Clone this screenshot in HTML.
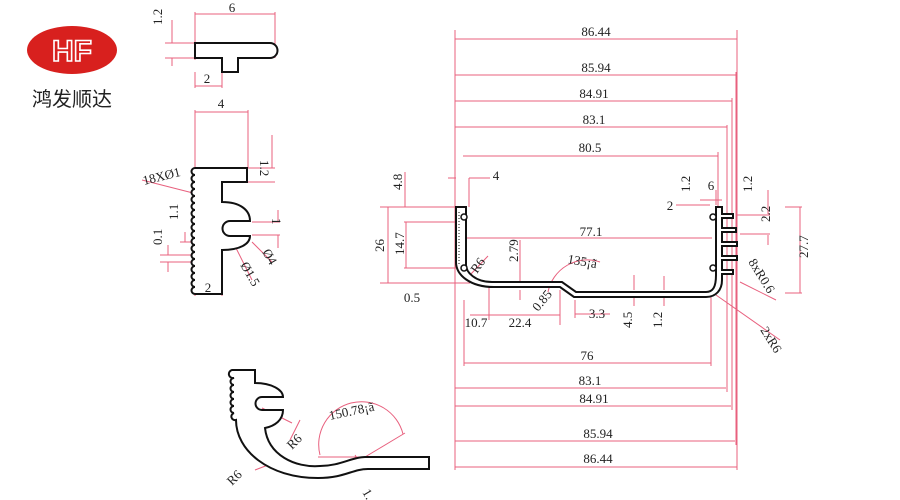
<!DOCTYPE html>
<html><head><meta charset="utf-8"><style>
html,body{margin:0;padding:0;background:#fff;}
svg{display:block}
text{font-family:"Liberation Serif",serif;font-size:13px;fill:#222}
.r{stroke:#e8607e;stroke-width:1;fill:none}
.k{stroke:#111;stroke-width:2;fill:#fff}
</style></head><body>
<svg width="900" height="500" viewBox="0 0 900 500" xmlns="http://www.w3.org/2000/svg">
<!-- logo -->
<ellipse cx="72" cy="50" rx="45" ry="24" fill="#d8201e"/>
<text x="72" y="61" text-anchor="middle" style="font-family:'Liberation Sans',sans-serif;font-size:30px;font-weight:bold;fill:none;stroke:#fff;stroke-width:1.6">HF</text>
<text x="72" y="106" text-anchor="middle" style="font-family:'Liberation Sans','Noto Sans CJK SC',sans-serif;font-size:20px;fill:#222">鸿发顺达</text>

<!-- T profile -->
<path class="r" d="M195 12V60 M275 12V58 M195 14H275 M165 43H195 M165 58H195 M172 20V43 M172 58V66 M195 86H222 M222 72V88 M195 72V88"/>
<path class="k" d="M195 43H270a7.5 7.5 0 0 1 0 15H238V72H222V58H195Z"/>
<text x="232" y="12" text-anchor="middle">6</text>
<text x="207" y="83" text-anchor="middle">2</text>
<text x="162" y="25" transform="rotate(-90 162 25)">1.2</text>

<!-- clip profile -->
<path class="r" d="M195 110V168 M248 110V168 M195 112H248 M248 168H275 M248 182H275 M272 135V168 M252 222H280 M252 235H280 M278 210V222 M278 235V248 M160 255H200 M160 262H200 M168 245V255 M168 262V272 M185 232V242 M180 242H200 M195 280V296 M222 280V296 M195 294H222 M142 180L193 193 M232 240L252 280 M252 242L272 262"/>
<path class="k" d="M195 168H247V182H222V202C240 202 250 210 250 221H230A7.5 7.5 0 0 0 230 236H250C250 244 240 250 222 250V294H195
a3.5 3.5 0 0 1 0-7a3.5 3.5 0 0 1 0-7a3.5 3.5 0 0 1 0-7a3.5 3.5 0 0 1 0-7a3.5 3.5 0 0 1 0-7a3.5 3.5 0 0 1 0-7a3.5 3.5 0 0 1 0-7a3.5 3.5 0 0 1 0-7a3.5 3.5 0 0 1 0-7a3.5 3.5 0 0 1 0-7a3.5 3.5 0 0 1 0-7a3.5 3.5 0 0 1 0-7a3.5 3.5 0 0 1 0-7a3.5 3.5 0 0 1 0-7a3.5 3.5 0 0 1 0-7a3.5 3.5 0 0 1 0-7a3.5 3.5 0 0 1 0-7a3.5 3.5 0 0 1 0-7Z"/>
<text x="221" y="108" text-anchor="middle">4</text>
<text x="270" y="150" transform="rotate(90 260 150)">1.2</text>
<text x="144" y="185" transform="rotate(-14 144 185)">18XØ1</text>
<text x="178" y="220" transform="rotate(-90 178 220)">1.1</text>
<text x="162" y="245" transform="rotate(-90 162 245)">0.1</text>
<text x="272" y="218" transform="rotate(90 272 218)">1</text>
<text x="262" y="252" transform="rotate(60 262 252)">Ø4</text>
<text x="240" y="265" transform="rotate(60 240 265)">Ø1.5</text>
<text x="208" y="292" text-anchor="middle">2</text>

<!-- big profile dims -->
<path class="r" d="M455 30V470 M737 30V470 M736 72V445 M732 98V410 M727 125V392 M718 152V250 M711 290V366 M464 300V366
M455 39H737 M455 75H736 M455 101H732 M455 127H727 M463 156H718
M464 363H711 M455 388H726 M455 406H731 M455 441H735 M455 467H737
M380 207H456 M380 283H470 M404 222H460 M404 268H460 M405 172V207 M388 207V283 M406 222V268
M469 178V207 M469 178H490 M448 178H456
M462 238H712 M520 240V282 M520 290V300
M489 285V320 M560 290V320 M470 315H560 M560 290V325 M575 300V318 M575 314H610
M634 275V290 M634 298V306 M664 276V290 M664 298V306
M785 207H802 M785 293H802 M800 207V293 M737 215H770 M740 234H770 M768 190V214 M768 235V245
M722 200H700 M716 190V205 M676 205H710 M740 282L776 300 M716 295L780 340 M470 275L488 256"/>
<path class="r" d="M548 292A40 40 0 0 1 600 262" />
<!-- big profile shape -->
<path class="k" d="M456 207H466V265C466 272 475 282 492 282H562L576 292H706C713 292 716 287 716 275V207H722V214H733V218H722V228H736V232H722V242H737V246H722V256H737V260H722V270H733V274H722V280C722 290 716 297 706 297H574L560 287H494C470 287 456 275 456 262Z"/>
<path d="M459 212V265" stroke="#111" stroke-dasharray="1 2" stroke-width="1"/>
<circle cx="464" cy="217" r="3" fill="#fff" stroke="#111" stroke-width="1.5"/>
<circle cx="464" cy="268" r="3" fill="#fff" stroke="#111" stroke-width="1.5"/>
<circle cx="713" cy="217" r="3" fill="#fff" stroke="#111" stroke-width="1.5"/>
<circle cx="713" cy="268" r="3" fill="#fff" stroke="#111" stroke-width="1.5"/>
<g text-anchor="middle">
<text x="596" y="36">86.44</text><text x="596" y="72">85.94</text><text x="594" y="98">84.91</text>
<text x="594" y="124">83.1</text><text x="590" y="152">80.5</text>
<text x="587" y="360">76</text><text x="590" y="385">83.1</text><text x="594" y="403">84.91</text>
<text x="598" y="438">85.94</text><text x="598" y="463">86.44</text>
<text x="496" y="180">4</text><text x="591" y="236">77.1</text>
<text x="412" y="302">0.5</text><text x="476" y="327">10.7</text><text x="520" y="327">22.4</text>
<text x="597" y="318">3.3</text><text x="711" y="190">6</text><text x="670" y="210">2</text>
</g>
<text x="402" y="190" transform="rotate(-90 402 190)">4.8</text>
<text x="384" y="252" transform="rotate(-90 384 252)">26</text>
<text x="404" y="255" transform="rotate(-90 404 255)">14.7</text>
<text x="518" y="262" transform="rotate(-90 518 262)">2.79</text>
<text x="477" y="274" transform="rotate(-55 477 274)">R6</text>
<text x="538" y="312" transform="rotate(-50 538 312)">0.85</text>
<text x="567" y="263" transform="rotate(10 567 263)">135¡ã</text>
<text x="632" y="328" transform="rotate(-90 632 328)">4.5</text>
<text x="662" y="328" transform="rotate(-90 662 328)">1.2</text>
<text x="690" y="192" transform="rotate(-90 690 192)">1.2</text>
<text x="752" y="192" transform="rotate(-90 752 192)">1.2</text>
<text x="770" y="222" transform="rotate(-90 770 222)">2.2</text>
<text x="808" y="258" transform="rotate(-90 808 258)">27.7</text>
<text x="748" y="262" transform="rotate(58 748 262)">8xR0.6</text>
<text x="760" y="330" transform="rotate(58 760 330)">2xR6</text>

<!-- bottom curve profile -->
<path class="r" d="M318 457H365 M365 457L405 433 M320 455A42 42 0 0 1 403 434 M262 408L292 423 M255 470L268 465 M355 455L365 470 M290 440L300 420"/>
<path class="k" d="M232 370H255V383C272 383 283 390 283 397H262A6.5 6.5 0 0 0 262 410H283C283 420 275 426 265 428C268 455 295 468 320 466C340 466 352 457 365 457H429V469H368C352 469 345 478 318 478C268 478 236 450 236 420
a3.5 3.5 0 0 1 -2-7a3.5 3.5 0 0 1 0-7a3.5 3.5 0 0 1 0-7a3.5 3.5 0 0 1 0-7a3.5 3.5 0 0 1 0-7a3.5 3.5 0 0 1 0-7a3.5 3.5 0 0 1 -2-8Z"/>
<text x="330" y="420" transform="rotate(-12 330 420)">150.78¡ã</text>
<text x="292" y="450" transform="rotate(-45 292 450)">R6</text>
<text x="232" y="486" transform="rotate(-45 232 486)">R6</text>
<text x="362" y="492" transform="rotate(60 362 492)">1.</text>
</svg>
</body></html>
